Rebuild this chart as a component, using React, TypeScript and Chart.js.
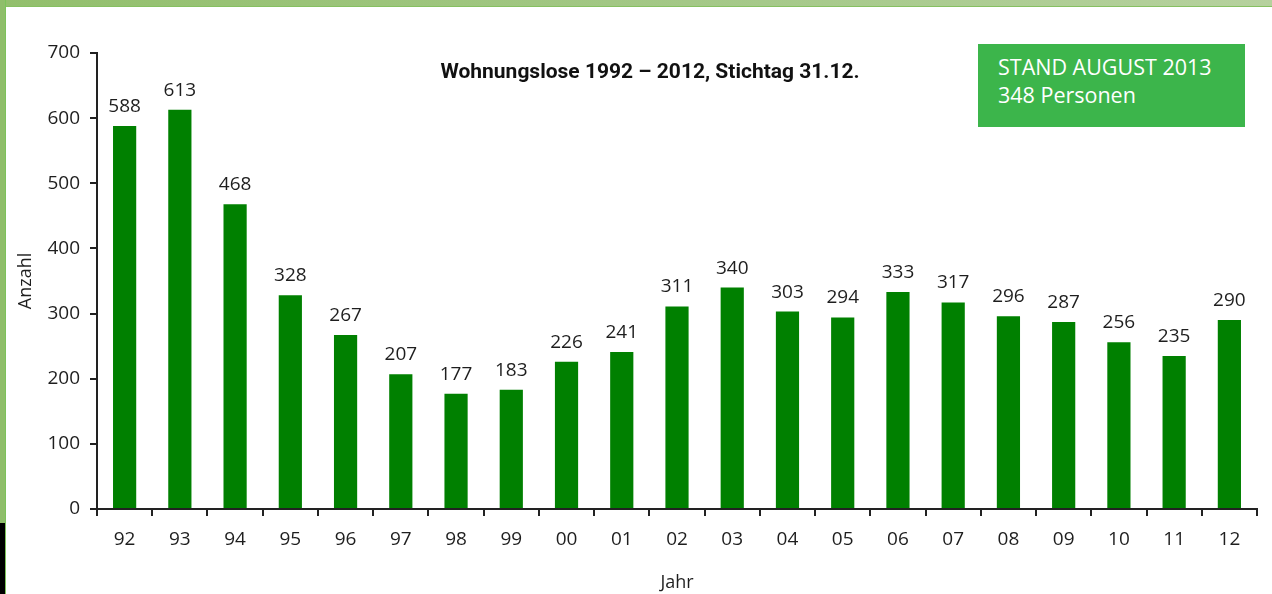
import { useEffect, useRef } from "react";
import { Chart, registerables } from "chart.js";

Chart.register(...registerables);

const years = ["92", "93", "94", "95", "96", "97", "98", "99", "00", "01", "02", "03", "04", "05", "06", "07", "08", "09", "10", "11", "12"];
const counts = [588, 613, 468, 328, 267, 207, 177, 183, 226, 241, 311, 340, 303, 294, 333, 317, 296, 287, 256, 235, 290];
const yMin = 0;
const yMax = 700;
const yStep = 100;
const chartTitle = "Wohnungslose 1992 – 2012, Stichtag 31.12.";
const yAxisTitle = "Anzahl";
const xAxisTitle = "Jahr";
const noteLines = ["STAND AUGUST 2013", "348 Personen"];

const BAR_COLOR = "#008000";
const TEXT_COLOR = "#1e1e1e";
const FONT = '"Open Sans", "Noto Sans", sans-serif';

const overlayPlugin = {
  id: "overlayText",
  afterDatasetsDraw(chart: any) {
    const ctx = chart.ctx;
    const meta = chart.getDatasetMeta(0);
    ctx.save();
    ctx.font = `19px ${FONT}`;
    ctx.fillStyle = TEXT_COLOR;
    ctx.textAlign = "center";
    ctx.textBaseline = "alphabetic";
    meta.data.forEach((bar: any, i: number) => {
      ctx.fillText(String(counts[i]), bar.x, bar.y - 14);
    });
    ctx.font = `bold 21px Roboto, ${FONT}`;
    ctx.fillStyle = "#111";
    ctx.fillText(chartTitle, 650, 78);
    ctx.restore();
  },
};

export default function App() {
  const canvasRef = useRef<HTMLCanvasElement | null>(null);

  useEffect(() => {
    if (!canvasRef.current) return;
    const chart = new Chart(canvasRef.current, {
      type: "bar",
      data: {
        labels: years,
        datasets: [
          {
            data: counts,
            backgroundColor: BAR_COLOR,
            borderWidth: 0,
            barPercentage: 0.42,
            categoryPercentage: 1,
          },
        ],
      },
      options: {
        animation: false,
        responsive: false,
        devicePixelRatio: 1,
        layout: { padding: { left: 0, top: 53, right: 15, bottom: 0 } },
        plugins: {
          legend: { display: false },
          tooltip: { enabled: false },
          title: { display: false },
        },
        scales: {
          x: {
            grid: {
              display: true,
              drawOnChartArea: false,
              drawTicks: true,
              tickLength: 7,
              color: "#222",
              lineWidth: 2,
              offset: true,
            },
            border: { display: true, color: "#222", width: 2 },
            ticks: {
              color: TEXT_COLOR,
              font: { family: FONT, size: 19 },
              padding: 12,
              maxRotation: 0,
            },
            title: {
              display: true,
              text: xAxisTitle,
              color: TEXT_COLOR,
              font: { family: FONT, size: 18 },
              padding: { top: 0, bottom: 0 },
            },
            afterFit: (s: any) => {
              s.height = 85;
            },
          },
          y: {
            min: yMin,
            max: yMax,
            grid: {
              display: true,
              drawOnChartArea: false,
              drawTicks: true,
              tickLength: 7,
              color: "#222",
              lineWidth: 2,
            },
            border: { display: true, color: "#222", width: 2 },
            ticks: {
              stepSize: yStep,
              color: TEXT_COLOR,
              font: { family: FONT, size: 19 },
              padding: 10,
            },
            title: {
              display: true,
              text: yAxisTitle,
              color: TEXT_COLOR,
              font: { family: FONT, size: 18 },
              padding: { top: 15, bottom: 15 },
            },
            afterFit: (s: any) => {
              s.width = 97;
            },
          },
        },
      },
      plugins: [overlayPlugin],
    });
    return () => chart.destroy();
  }, []);

  return (
    <div
      style={{
        position: "fixed",
        left: 0,
        top: 0,
        width: 1272,
        height: 594,
        background: "#fff",
        overflow: "hidden",
      }}
    >
      <canvas ref={canvasRef} width={1272} height={594} style={{ position: "absolute", left: 0, top: 0 }} />
      <div
        style={{
          position: "absolute",
          left: 0,
          top: 0,
          width: 1272,
          height: 6,
          background: "linear-gradient(to right, #92bf6c, #a6c98a 60%, #b6d19e)",
          borderBottom: "1px solid #86c061",
        }}
      />
      <div
        style={{
          position: "absolute",
          left: 0,
          top: 0,
          width: 5,
          height: 523,
          background: "#8fbe6a",
          borderRight: "1px solid #7cc35a",
        }}
      />
      <div
        style={{
          position: "absolute",
          left: 0,
          top: 523,
          width: 5,
          height: 71,
          background: "#000",
          borderRight: "1px solid #7cc35a",
        }}
      />
      <div
        style={{
          position: "absolute",
          left: 978,
          top: 44,
          width: 267,
          height: 83,
          background: "#3cb54b",
          color: "#fff",
          fontFamily: FONT,
          fontSize: 21.5,
          lineHeight: "28px",
          boxSizing: "border-box",
          padding: "9px 0 0 20px",
        }}
      >
        {noteLines.map((t) => (
          <div key={t}>{t}</div>
        ))}
      </div>
    </div>
  );
}
